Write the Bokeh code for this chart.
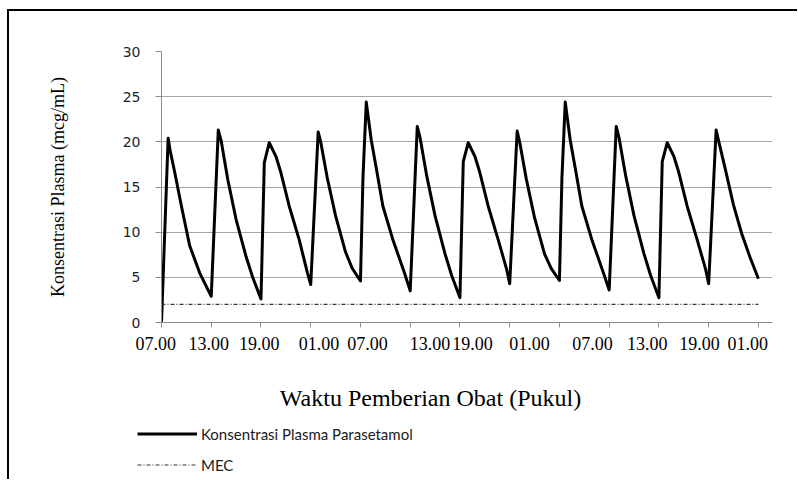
from bokeh.plotting import figure
from bokeh.layouts import column
from bokeh.models import (LinearAxis, FixedTicker, Legend, LegendItem, Label, LabelSet,
                          ColumnDataSource, Range1d, Grid)
from bokeh.core.properties import value
from bokeh.embed import file_html
from bokeh.resources import INLINE

# time in hours from the first dose (07.00)
time_h = [0, 0.8, 1.05, 1.6, 2.4, 3.4, 4.6, 6.0,
          6.85, 7.2, 8.0, 9.0, 10.2, 11.0, 12.0,
          12.4, 13.0, 13.8, 14.4, 15.4, 16.6, 17.6, 18.0,
          18.9, 19.2, 20.0, 21.0, 22.2, 23.0, 24.0,
          24.3, 24.7, 25.3, 26.0, 26.7, 27.9, 29.3, 30.0,
          30.85, 31.2, 32.0, 33.0, 34.2, 35.0, 36.0,
          36.4, 37.0, 37.8, 38.4, 39.4, 40.6, 41.6, 42.0,
          42.9, 43.2, 44.0, 45.0, 46.2, 47.0, 48.0,
          48.3, 48.7, 49.3, 50.0, 50.7, 51.9, 53.3, 54.0,
          54.85, 55.2, 56.0, 57.0, 58.2, 59.0, 60.0,
          60.4, 61.0, 61.8, 62.4, 63.4, 64.6, 65.6, 66.0,
          66.9, 67.2, 68.0, 69.0, 70.0, 71.0, 72.0]
conc = [0, 20.4, 19.0, 16.6, 12.9, 8.5, 5.5, 2.9,
        21.3, 20.1, 15.8, 11.4, 7.3, 5.0, 2.6,
        17.7, 19.9, 18.4, 16.6, 12.9, 9.2, 5.5, 4.2,
        21.1, 20.0, 16.0, 11.8, 7.8, 6.0, 4.6,
        16.0, 24.4, 20.2, 16.6, 12.9, 9.2, 5.5, 3.5,
        21.7, 20.4, 16.2, 11.8, 7.6, 5.2, 2.75,
        17.8, 19.9, 18.4, 16.6, 12.9, 9.2, 6.0, 4.3,
        21.2, 20.0, 15.9, 11.6, 7.6, 6.0, 4.65,
        16.0, 24.4, 20.2, 16.6, 12.9, 9.2, 5.5, 3.6,
        21.7, 20.4, 16.2, 11.8, 7.6, 5.2, 2.75,
        17.8, 19.9, 18.4, 16.6, 12.9, 9.2, 6.0, 4.3,
        21.3, 20.1, 17.0, 13.0, 9.8, 7.2, 4.85]

mec_time = [0, 72]
mec_value = [2, 2]

dose_ticks = [0, 6, 12, 18, 24, 30, 36, 42, 48, 54, 60, 66, 72]
x_labels = ["07.00", "13.00", "19.00", "01.00", "07.00", "13.00",
            "19.00", "01.00", "07.00", "13.00", "19.00", "01.00"]
label_pos = [-0.7, 5.7, 11.8, 19.0, 24.85, 32.4, 37.5, 44.4, 52.0, 58.6, 64.9, 70.7]
y_ticks = [0, 5, 10, 15, 20, 25, 30]

# ---- layout constants (pixels) ----
W = 788
H1, H2 = 323, 145
B_LEFT, B_RIGHT, B_TOP, B_BOTTOM = 152, 25, 40, 12
X_START, X_END = 0, 73.7

# ---------------- main plot ----------------
p = figure(width=W, height=H1, x_range=Range1d(X_START, X_END), y_range=Range1d(0, 30),
           output_backend="svg", toolbar_location=None,
           x_axis_type=None, y_axis_type=None,
           min_border_left=B_LEFT, min_border_right=B_RIGHT,
           min_border_top=B_TOP, min_border_bottom=B_BOTTOM)
p.frame_align = False
p.outline_line_color = None
p.background_fill_color = "white"
p.border_fill_color = "white"

yaxis = LinearAxis(ticker=FixedTicker(ticks=y_ticks))
yaxis.axis_line_color = "#8c8c8c"
yaxis.major_tick_line_color = "#8c8c8c"
yaxis.major_tick_out = 6
yaxis.major_tick_in = 0
yaxis.minor_tick_line_color = None
yaxis.major_label_standoff = 15
yaxis.major_label_text_font = "DejaVu Sans"
yaxis.major_label_text_font_size = "14px"
yaxis.major_label_text_color = "#1e1e2e"
yaxis.axis_label = "Konsentrasi Plasma (mcg/mL)"
yaxis.axis_label_text_font = "Liberation Serif"
yaxis.axis_label_text_font_size = "18px"
yaxis.axis_label_text_font_style = "normal"
yaxis.axis_label_text_color = "black"
yaxis.axis_label_standoff = 52
p.add_layout(yaxis, "left")

# x axis: tick marks at each dose (6 h); the clock labels are drawn below
xaxis = LinearAxis(ticker=FixedTicker(ticks=[], minor_ticks=dose_ticks))
xaxis.axis_line_color = "#8c8c8c"
xaxis.major_tick_line_color = None
xaxis.minor_tick_line_color = "#8c8c8c"
xaxis.minor_tick_out = 5
xaxis.minor_tick_in = 0
p.add_layout(xaxis, "below")

grid = Grid(dimension=1, ticker=FixedTicker(ticks=y_ticks))
grid.grid_line_color = "#a6a6a6"
grid.grid_line_width = 1
p.add_layout(grid)

curve_style = dict(line_color="black", line_width=3, line_join="round")
mec_style = dict(line_color="#333333", line_width=1.2, line_dash="4 2 1 2")

p.line(time_h, conc, **curve_style)
p.line(mec_time, mec_value, **mec_style)

# ---------------- bottom strip: time labels, x title, legend ----------------
px_per_h = (W - B_LEFT - B_RIGHT) / (X_END - X_START)
q_start = X_START - B_LEFT / px_per_h
q_end = X_START + (W - B_LEFT) / px_per_h

q = figure(width=W, height=H2, x_range=Range1d(q_start, q_end), y_range=Range1d(0, H2),
           output_backend="svg", toolbar_location=None,
           x_axis_type=None, y_axis_type=None,
           min_border=0, min_border_left=0, min_border_right=0,
           min_border_top=0, min_border_bottom=0)
q.frame_align = False
q.outline_line_color = None
q.background_fill_color = "white"
q.border_fill_color = "white"

lab_src = ColumnDataSource(dict(x=label_pos, text=x_labels))
labels = LabelSet(x="x", y=H2 - 9, text="text", source=lab_src,
                  text_align="center", text_baseline="middle",
                  text_font=value("Liberation Serif"), text_font_size="18px",
                  text_color="black")
q.add_layout(labels)

xtitle = Label(x=421, y=82, x_units="screen", y_units="screen",
               text="Waktu Pemberian Obat (Pukul)", text_align="center",
               text_baseline="alphabetic", text_font="Liberation Serif",
               text_font_size="24px", text_color="black")
q.add_layout(xtitle)

nan = float("nan")
leg_curve = q.line([nan], [nan], **curve_style)
leg_mec = q.line([nan], [nan], **mec_style)
legend = Legend(items=[LegendItem(label="Konsentrasi Plasma Parasetamol", renderers=[leg_curve]),
                       LegendItem(label="MEC", renderers=[leg_mec])],
                location=(128, 5))
legend.glyph_width = 60
legend.glyph_height = 19
legend.label_height = 19
legend.label_standoff = 4
legend.spacing = 12
legend.padding = 0
legend.margin = 0
legend.border_line_color = None
legend.background_fill_alpha = 0
legend.label_text_font = "Lato"
legend.label_text_font_size = "15px"
legend.label_text_color = "#1a1a1a"
q.add_layout(legend)

layout = column(p, q, spacing=0, margin=(9, 0, 0, 7),
                styles={"border-left": "2px solid black", "border-top": "2px solid black"})
open("out.html", "w").write(file_html(layout, INLINE))
